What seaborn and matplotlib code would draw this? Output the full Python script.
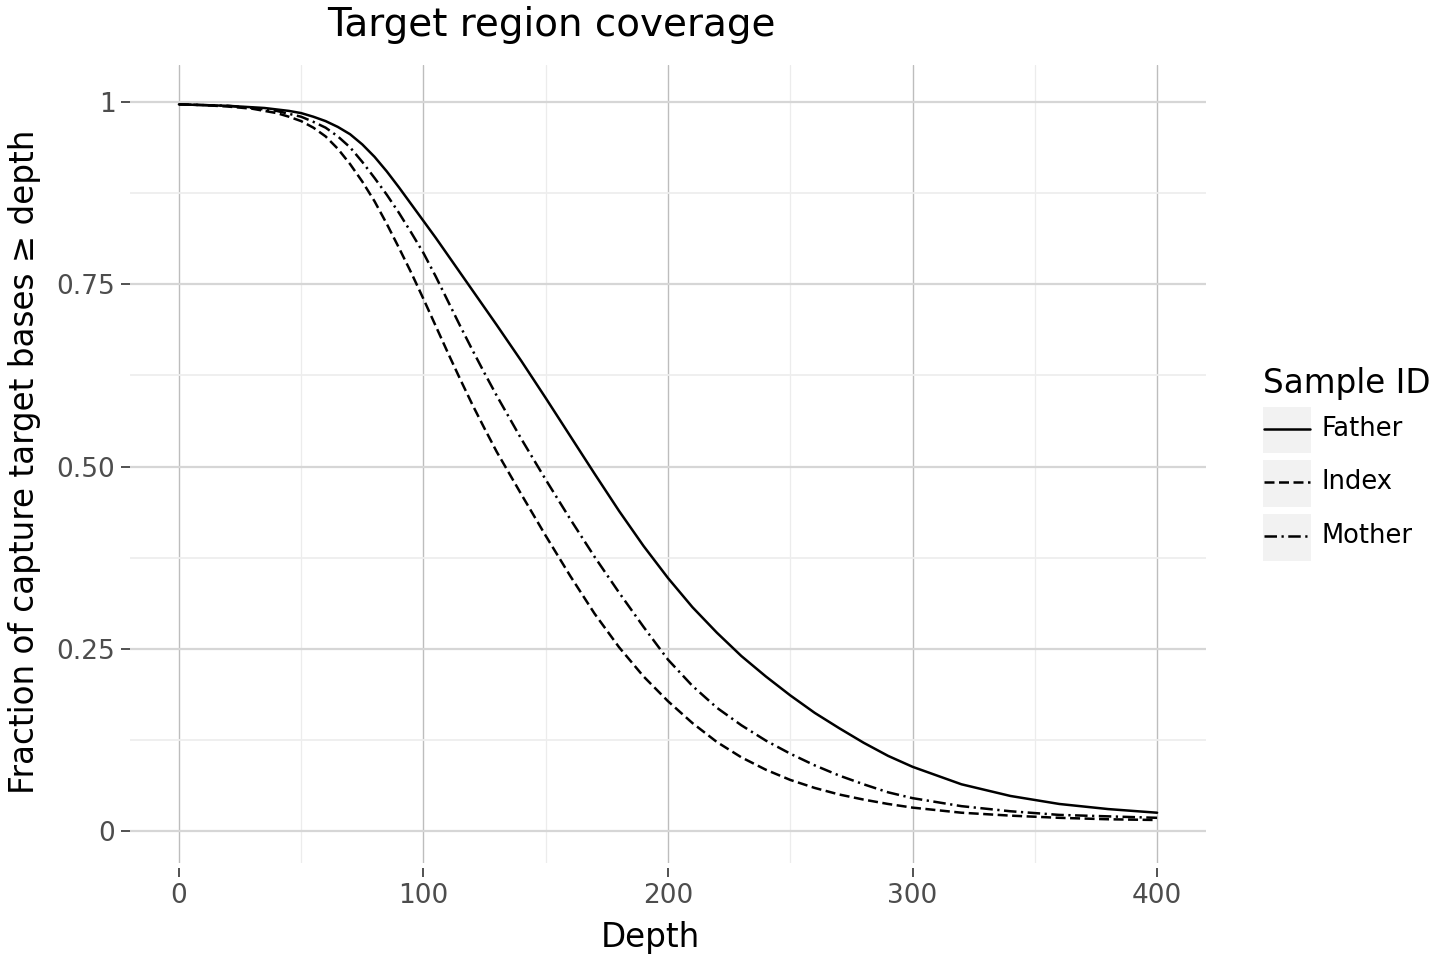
import numpy as np
import pandas as pd
import matplotlib
matplotlib.use("Agg")
import matplotlib.pyplot as plt
from matplotlib.lines import Line2D
from matplotlib.patches import Rectangle
from matplotlib.ticker import MultipleLocator
import seaborn as sns

# ---- data ----
depth = [0, 10, 20, 30, 35, 40, 45, 50, 55, 60, 65, 70, 75, 80, 85, 90, 95,
         100, 105, 110, 115, 120, 125, 130, 140, 150,
         160, 170, 180, 190, 200, 210, 220, 230, 240, 250, 260, 270, 280, 290,
         300, 320, 340, 360, 380, 400]
father = [0.997, 0.996, 0.995, 0.993, 0.992, 0.990, 0.988, 0.985, 0.980, 0.974,
          0.966, 0.956, 0.942, 0.925, 0.905, 0.883, 0.860, 0.837, 0.814, 0.790,
          0.766, 0.742, 0.718, 0.694, 0.645, 0.594, 0.542, 0.490, 0.439, 0.391,
          0.347, 0.307, 0.272, 0.240, 0.212, 0.186, 0.162, 0.141, 0.121, 0.103,
          0.088, 0.064, 0.048, 0.037, 0.030, 0.025]
index_ = [0.997, 0.996, 0.994, 0.991, 0.988, 0.985, 0.980, 0.974, 0.965, 0.953,
          0.936, 0.915, 0.891, 0.864, 0.833, 0.800, 0.766, 0.730, 0.693, 0.656,
          0.620, 0.585, 0.552, 0.520, 0.462, 0.405, 0.350, 0.298, 0.252, 0.212,
          0.178, 0.148, 0.122, 0.101, 0.084, 0.070, 0.059, 0.050, 0.043, 0.037,
          0.032, 0.025, 0.021, 0.018, 0.016, 0.015]
mother = [0.997, 0.996, 0.995, 0.992, 0.990, 0.988, 0.984, 0.980, 0.973, 0.965,
          0.953, 0.938, 0.918, 0.896, 0.873, 0.848, 0.821, 0.793, 0.761, 0.727,
          0.693, 0.660, 0.628, 0.597, 0.538, 0.482, 0.428, 0.376, 0.327, 0.280,
          0.235, 0.199, 0.169, 0.145, 0.124, 0.106, 0.090, 0.076, 0.064, 0.053,
          0.045, 0.034, 0.027, 0.022, 0.020, 0.018]
samples = ["Father", "Index", "Mother"]
x_ticks = [0, 100, 200, 300, 400]
y_ticks = [0, 0.25, 0.5, 0.75, 1]
y_tick_labels = ["0", "0.25", "0.50", "0.75", "1"]

df = pd.DataFrame({
    "Depth": depth * 3,
    "Fraction": father + index_ + mother,
    "Sample ID": [s for s in samples for _ in depth],
})

# ---- style ----
sns.set_theme(style="white")
plt.rcParams["font.family"] = ["DejaVu Sans"]

W, H = 1456, 961
fig = plt.figure(figsize=(W / 100, H / 100), dpi=100)
fig.patch.set_facecolor("white")

def fx(px):
    return px / W

def fy(py):
    return 1 - py / H

left, right, top, bottom = 130, 1206, 65, 863
ax = fig.add_axes([fx(left), fy(bottom), fx(right) - fx(left), fy(top) - fy(bottom)])
ax.set_facecolor("white")

dash_map = {"Father": "", "Index": (4.0, 1.8), "Mother": (5.0, 1.8, 0.9, 1.8)}
LW = 1.8
sns.lineplot(data=df, x="Depth", y="Fraction", style="Sample ID",
             dashes=dash_map, color="black", linewidth=LW, legend=False,
             ax=ax, zorder=3)

ax.set_xlim(-20, 420)
ax.set_ylim(-0.044, 1.051)
ax.set_xticks(x_ticks)
ax.set_yticks(y_ticks)
ax.set_yticklabels(y_tick_labels)
ax.xaxis.set_minor_locator(MultipleLocator(50))
ax.yaxis.set_minor_locator(MultipleLocator(0.125))

# grid
ax.grid(False)
ax.xaxis.grid(True, which="major", color="#bdbdbd", linewidth=1.0, zorder=0)
ax.xaxis.grid(True, which="minor", color="#ececec", linewidth=0.9, zorder=0)
ax.yaxis.grid(True, which="major", color="#d6d6d6", linewidth=1.6, zorder=0)
ax.yaxis.grid(True, which="minor", color="#eeeeee", linewidth=1.3, zorder=0)
ax.set_axisbelow(True)

for s in ax.spines.values():
    s.set_visible(False)
ax.spines["bottom"].set_position(("outward", 3.6))

ax.tick_params(axis="both", which="major", direction="out", length=6.5,
               width=1.2, color="#333333", labelcolor="#4d4d4d",
               labelsize=19, pad=4, bottom=True, left=True)
ax.tick_params(axis="both", which="minor", length=0)

ax.set_xlabel("")
ax.set_ylabel("")

# titles
fig.text(fx(551), fy(25), "Target region coverage", ha="center", va="center",
         fontsize=28, color="black")
fig.text(fx(650), fy(937), "Depth", ha="center", va="center",
         fontsize=23.5, color="black")
fig.text(fx(25), fy(462), "Fraction of capture target bases \u2265 depth",
         ha="center", va="center", rotation=90, fontsize=23.5, color="black")

# legend (manual, ggplot-like keys)
fig.text(fx(1263), fy(383), "Sample ID", ha="left", va="center",
         fontsize=23.5, color="black")
key_rows = [(407, 453, 429), (460, 507, 482), (514, 561, 536)]
for (y0, y1, yc), name in zip(key_rows, samples):
    fig.add_artist(Rectangle((fx(1263), fy(y1)), fx(1311) - fx(1263),
                             fy(y0) - fy(y1), transform=fig.transFigure,
                             facecolor="#f2f2f2", edgecolor="none"))
    ln = Line2D([fx(1264), fx(1310)], [fy(yc), fy(yc)], transform=fig.transFigure,
                color="black", linewidth=LW)
    if dash_map[name]:
        ln.set_dashes(dash_map[name])
    fig.add_artist(ln)
    fig.text(fx(1321), fy(yc), name, ha="left", va="center",
             fontsize=18.5, color="black")

fig.savefig("out.png", dpi=100, facecolor="white")
